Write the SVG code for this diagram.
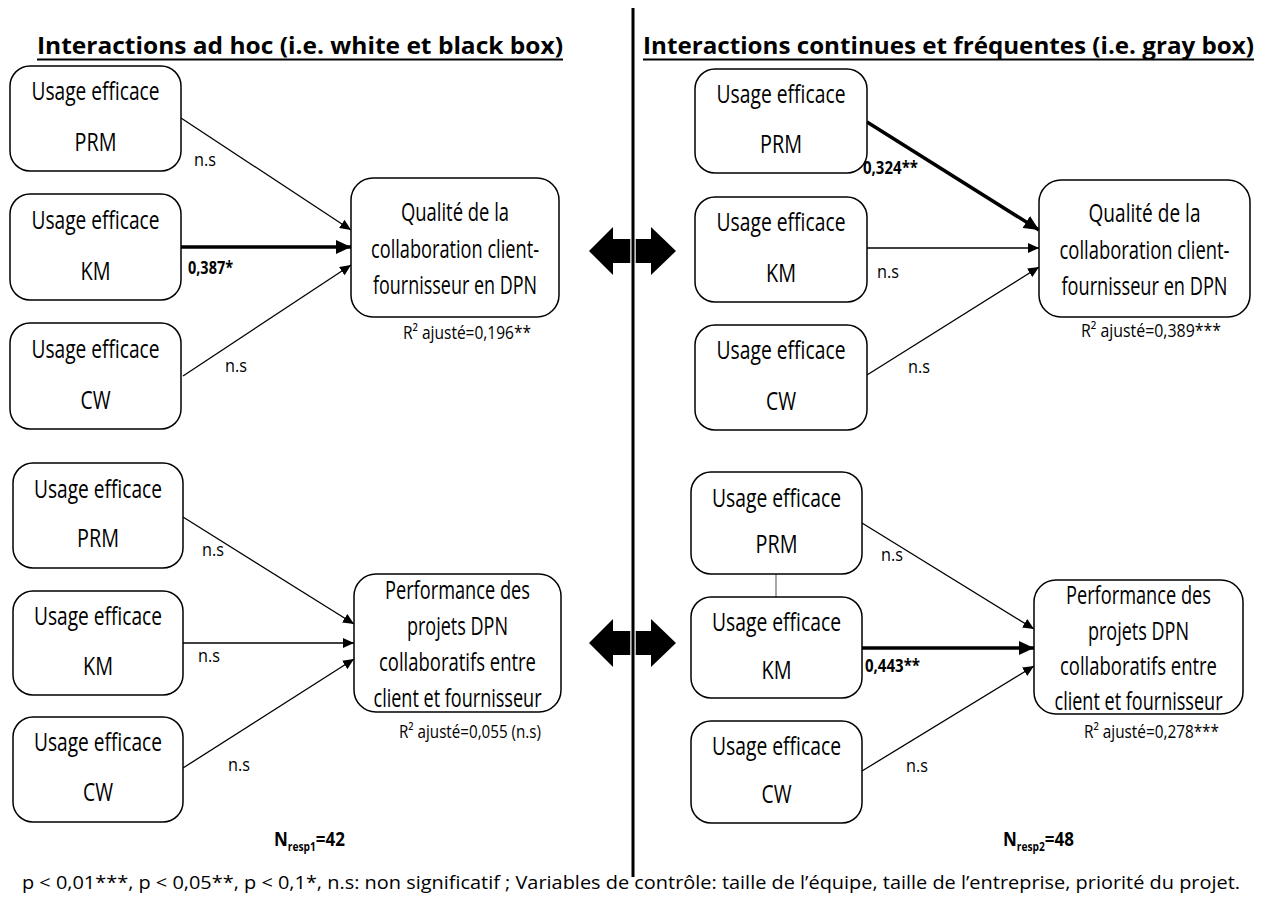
<svg xmlns="http://www.w3.org/2000/svg" width="1265" height="907" viewBox="0 0 1265 907">
<style>
text{font-family:"Open Sans","Liberation Sans",sans-serif;fill:#000}
.box{fill:#fff;stroke:#000;stroke-width:1.5}
.t{font-size:25px;text-anchor:middle}
.title{font-size:24px;font-weight:bold}
.lab{font-size:18px}
.b{font-weight:bold}
.thin{stroke:#000;stroke-width:1.3;fill:none}
.thick{stroke:#000;stroke-width:3.5;fill:none}
</style>
<defs>
<marker id="ah" markerUnits="userSpaceOnUse" markerWidth="12" markerHeight="10" refX="11" refY="5" orient="auto"><path d="M0,0 L11,5 L0,10 z" fill="#000"/></marker>
<marker id="ahb" markerUnits="userSpaceOnUse" markerWidth="16" markerHeight="14" refX="15" refY="7" orient="auto"><path d="M0,0 L15,7 L0,14 z" fill="#000"/></marker>
</defs>
<rect width="1265" height="907" fill="#fff"/>

<g id="titles">
<text class="title" x="37" y="54" textLength="526" lengthAdjust="spacingAndGlyphs">Interactions ad hoc (i.e. white et black box)</text>
<line x1="37" y1="59.5" x2="563" y2="59.5" stroke="#000" stroke-width="2"/>
<text class="title" x="643" y="54" textLength="611" lengthAdjust="spacingAndGlyphs">Interactions continues et fréquentes (i.e. gray box)</text>
<line x1="643" y1="59.5" x2="1254" y2="59.5" stroke="#000" stroke-width="2"/>
</g>

<g id="double-arrows">
<polygon points="589,251 613,227 613,239 651,239 651,227 676,251 651,275 651,263 613,263 613,275" fill="#000"/>
<polygon points="589,643 613,619 613,631 651,631 651,619 676,643 651,667 651,655 613,655 613,667" fill="#000"/>
</g>
<g id="divider">
<line x1="633" y1="226" x2="633" y2="276" stroke="#fff" stroke-width="5.5"/>
<line x1="633" y1="618" x2="633" y2="668" stroke="#fff" stroke-width="5.5"/>
<line x1="633" y1="8" x2="633" y2="877" stroke="#000" stroke-width="3"/>
</g>

<g id="connectors">
<line class="thin" x1="181" y1="118" x2="351" y2="230" marker-end="url(#ah)"/>
<line class="thick" x1="181" y1="247" x2="351" y2="247" marker-end="url(#ahb)"/>
<line class="thin" x1="183" y1="376" x2="351" y2="265" marker-end="url(#ah)"/>
<line class="thick" x1="867" y1="122" x2="1039" y2="230" marker-end="url(#ahb)"/>
<line class="thin" x1="867" y1="248" x2="1039" y2="248" marker-end="url(#ah)"/>
<line class="thin" x1="867" y1="375" x2="1039" y2="267" marker-end="url(#ah)"/>
<line class="thin" x1="183" y1="517" x2="354" y2="624" marker-end="url(#ah)"/>
<line class="thin" x1="183" y1="643" x2="354" y2="643" marker-end="url(#ah)"/>
<line class="thin" x1="183" y1="768" x2="354" y2="659" marker-end="url(#ah)"/>
<line class="thin" x1="862" y1="523" x2="1034" y2="629" marker-end="url(#ah)"/>
<line class="thick" x1="862" y1="648" x2="1034" y2="648" marker-end="url(#ahb)"/>
<line class="thin" x1="862" y1="771" x2="1034" y2="666" marker-end="url(#ah)"/>
<line x1="776" y1="574" x2="776" y2="597" stroke="#777" stroke-width="1.3"/>
</g>

<g id="edge-labels">
<text class="lab" x="194" y="166" textLength="22" lengthAdjust="spacingAndGlyphs">n.s</text>
<text class="lab b" x="188" y="274" textLength="45" lengthAdjust="spacingAndGlyphs">0,387*</text>
<text class="lab" x="225" y="372" textLength="22" lengthAdjust="spacingAndGlyphs">n.s</text>
<text class="lab b" x="863" y="174" textLength="55" lengthAdjust="spacingAndGlyphs">0,324**</text>
<text class="lab" x="877" y="278" textLength="22" lengthAdjust="spacingAndGlyphs">n.s</text>
<text class="lab" x="908" y="373" textLength="22" lengthAdjust="spacingAndGlyphs">n.s</text>
<text class="lab" x="202" y="556" textLength="22" lengthAdjust="spacingAndGlyphs">n.s</text>
<text class="lab" x="198" y="662" textLength="22" lengthAdjust="spacingAndGlyphs">n.s</text>
<text class="lab" x="228" y="771" textLength="22" lengthAdjust="spacingAndGlyphs">n.s</text>
<text class="lab" x="881" y="561" textLength="22" lengthAdjust="spacingAndGlyphs">n.s</text>
<text class="lab b" x="865" y="672" textLength="55" lengthAdjust="spacingAndGlyphs">0,443**</text>
<text class="lab" x="906" y="772" textLength="22" lengthAdjust="spacingAndGlyphs">n.s</text>
</g>

<g id="L1-PRM"><rect class="box" x="10" y="66" width="171" height="105" rx="20"/>
<text class="t" x="95.5" y="100" textLength="128" lengthAdjust="spacingAndGlyphs">Usage efficace</text>
<text class="t" x="95.5" y="151" textLength="42" lengthAdjust="spacingAndGlyphs">PRM</text></g>
<g id="L1-KM"><rect class="box" x="10" y="194" width="171" height="106" rx="20"/>
<text class="t" x="95.5" y="229" textLength="128" lengthAdjust="spacingAndGlyphs">Usage efficace</text>
<text class="t" x="95.5" y="280" textLength="30" lengthAdjust="spacingAndGlyphs">KM</text></g>
<g id="L1-CW"><rect class="box" x="10" y="323" width="171" height="106" rx="20"/>
<text class="t" x="95.5" y="358" textLength="128" lengthAdjust="spacingAndGlyphs">Usage efficace</text>
<text class="t" x="95.5" y="409" textLength="30" lengthAdjust="spacingAndGlyphs">CW</text></g>
<g id="L1-QUAL"><rect class="box" x="351" y="178" width="208" height="139" rx="22"/>
<text class="t" x="455" y="221" textLength="108" lengthAdjust="spacingAndGlyphs">Qualité de la</text>
<text class="t" x="455" y="258" textLength="168" lengthAdjust="spacingAndGlyphs">collaboration client-</text>
<text class="t" x="455" y="294" textLength="164" lengthAdjust="spacingAndGlyphs">fournisseur en DPN</text>
<text class="lab" x="403" y="339" textLength="128" lengthAdjust="spacingAndGlyphs">R² ajusté=0,196**</text></g>

<g id="R1-PRM"><rect class="box" x="695" y="69" width="172" height="104" rx="20"/>
<text class="t" x="781" y="103" textLength="129" lengthAdjust="spacingAndGlyphs">Usage efficace</text>
<text class="t" x="781" y="153" textLength="42" lengthAdjust="spacingAndGlyphs">PRM</text></g>
<g id="R1-KM"><rect class="box" x="695" y="197" width="172" height="105" rx="20"/>
<text class="t" x="781" y="231" textLength="129" lengthAdjust="spacingAndGlyphs">Usage efficace</text>
<text class="t" x="781" y="282" textLength="30" lengthAdjust="spacingAndGlyphs">KM</text></g>
<g id="R1-CW"><rect class="box" x="695" y="325" width="172" height="105" rx="20"/>
<text class="t" x="781" y="359" textLength="129" lengthAdjust="spacingAndGlyphs">Usage efficace</text>
<text class="t" x="781" y="410" textLength="30" lengthAdjust="spacingAndGlyphs">CW</text></g>
<g id="R1-QUAL"><rect class="box" x="1039" y="180" width="211" height="137" rx="22"/>
<text class="t" x="1144.5" y="222" textLength="112" lengthAdjust="spacingAndGlyphs">Qualité de la</text>
<text class="t" x="1144.5" y="259" textLength="170" lengthAdjust="spacingAndGlyphs">collaboration client-</text>
<text class="t" x="1144.5" y="295" textLength="166" lengthAdjust="spacingAndGlyphs">fournisseur en DPN</text>
<text class="lab" x="1081" y="337" textLength="140" lengthAdjust="spacingAndGlyphs">R² ajusté=0,389***</text></g>

<g id="L2-PRM"><rect class="box" x="13" y="463" width="170" height="105" rx="20"/>
<text class="t" x="98" y="498" textLength="128" lengthAdjust="spacingAndGlyphs">Usage efficace</text>
<text class="t" x="98" y="547" textLength="42" lengthAdjust="spacingAndGlyphs">PRM</text></g>
<g id="L2-KM"><rect class="box" x="13" y="591" width="170" height="104" rx="20"/>
<text class="t" x="98" y="625" textLength="128" lengthAdjust="spacingAndGlyphs">Usage efficace</text>
<text class="t" x="98" y="675" textLength="30" lengthAdjust="spacingAndGlyphs">KM</text></g>
<g id="L2-CW"><rect class="box" x="13" y="717" width="170" height="105" rx="20"/>
<text class="t" x="98" y="751" textLength="128" lengthAdjust="spacingAndGlyphs">Usage efficace</text>
<text class="t" x="98" y="801" textLength="30" lengthAdjust="spacingAndGlyphs">CW</text></g>
<g id="L2-PERF"><rect class="box" x="354" y="574" width="207" height="138" rx="22"/>
<text class="t" x="457.5" y="599" textLength="145" lengthAdjust="spacingAndGlyphs">Performance des</text>
<text class="t" x="457.5" y="635" textLength="101" lengthAdjust="spacingAndGlyphs">projets DPN</text>
<text class="t" x="457.5" y="671" textLength="157" lengthAdjust="spacingAndGlyphs">collaboratifs entre</text>
<text class="t" x="457.5" y="707" textLength="168" lengthAdjust="spacingAndGlyphs">client et fournisseur</text>
<text class="lab" x="399" y="738" textLength="142" lengthAdjust="spacingAndGlyphs">R² ajusté=0,055 (n.s)</text></g>

<g id="R2-PRM"><rect class="box" x="691" y="472" width="171" height="102" rx="20"/>
<text class="t" x="776.5" y="507" textLength="129" lengthAdjust="spacingAndGlyphs">Usage efficace</text>
<text class="t" x="776.5" y="553" textLength="42" lengthAdjust="spacingAndGlyphs">PRM</text></g>
<g id="R2-KM"><rect class="box" x="691" y="597" width="171" height="101" rx="20"/>
<text class="t" x="776.5" y="631" textLength="129" lengthAdjust="spacingAndGlyphs">Usage efficace</text>
<text class="t" x="776.5" y="679" textLength="30" lengthAdjust="spacingAndGlyphs">KM</text></g>
<g id="R2-CW"><rect class="box" x="691" y="721" width="171" height="102" rx="20"/>
<text class="t" x="776.5" y="755" textLength="129" lengthAdjust="spacingAndGlyphs">Usage efficace</text>
<text class="t" x="776.5" y="803" textLength="30" lengthAdjust="spacingAndGlyphs">CW</text></g>
<g id="R2-PERF"><rect class="box" x="1034" y="580" width="209" height="134" rx="22"/>
<text class="t" x="1138.5" y="604" textLength="145" lengthAdjust="spacingAndGlyphs">Performance des</text>
<text class="t" x="1138.5" y="640" textLength="101" lengthAdjust="spacingAndGlyphs">projets DPN</text>
<text class="t" x="1138.5" y="675" textLength="157" lengthAdjust="spacingAndGlyphs">collaboratifs entre</text>
<text class="t" x="1138.5" y="710" textLength="168" lengthAdjust="spacingAndGlyphs">client et fournisseur</text>
<text class="lab" x="1084" y="738" textLength="135" lengthAdjust="spacingAndGlyphs">R² ajusté=0,278***</text></g>

<g id="footer">
<g transform="translate(274,846) scale(0.85,1)"><text class="b" x="0" y="0" font-size="20">N<tspan font-size="12" dy="5">resp1</tspan><tspan dy="-5">=42</tspan></text></g>
<g transform="translate(1003,846) scale(0.85,1)"><text class="b" x="0" y="0" font-size="20">N<tspan font-size="12" dy="5">resp2</tspan><tspan dy="-5">=48</tspan></text></g>
<text class="lab" x="22" y="889" textLength="1218" lengthAdjust="spacingAndGlyphs">p &lt; 0,01***, p &lt; 0,05**, p &lt; 0,1*, n.s: non significatif ; Variables de contrôle: taille de l’équipe, taille de l’entreprise, priorité du projet.</text>
</g>
</svg>
